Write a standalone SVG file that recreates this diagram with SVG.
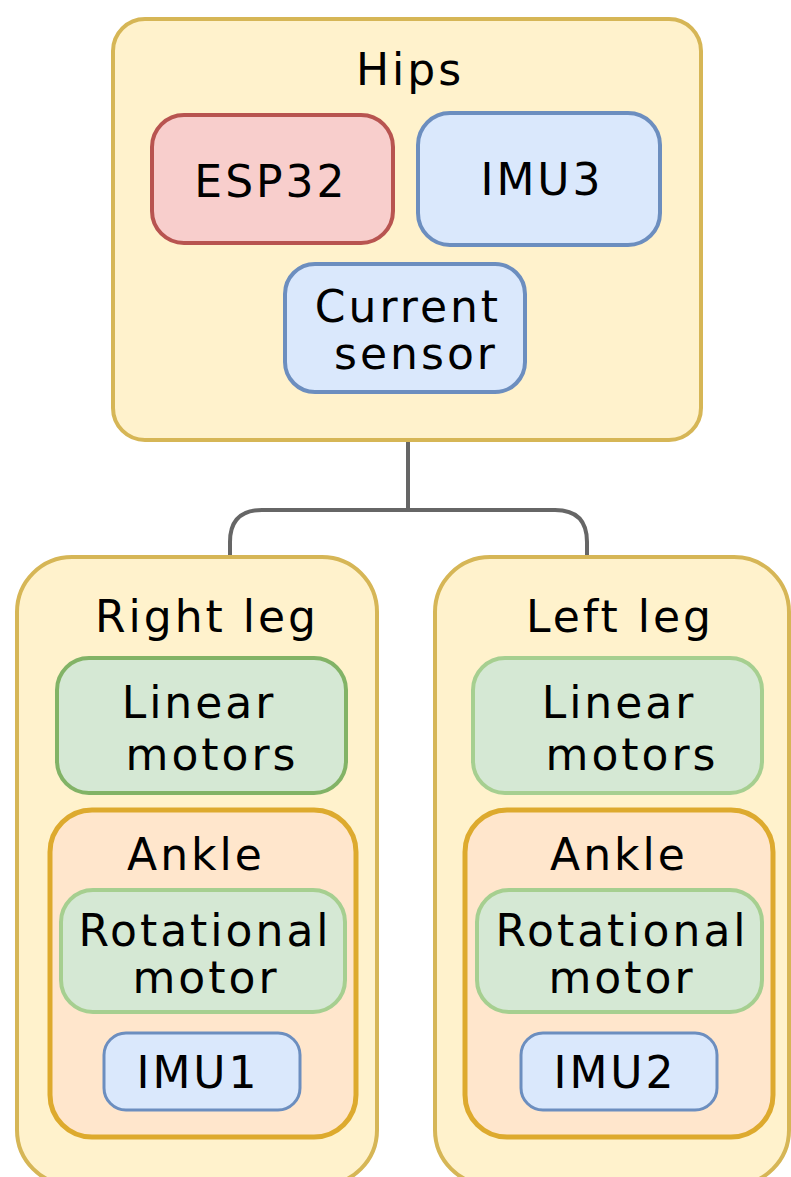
<svg xmlns="http://www.w3.org/2000/svg" width="791" height="1177" viewBox="0 0 791 1177">
<style>
text{font-family:"DejaVu Sans","Verdana",sans-serif;font-size:44px;letter-spacing:3px;fill:#000;text-anchor:middle}
.frame{fill:#fff2cc;stroke:#d6b656;stroke-width:4}
.red{fill:#f8cecc;stroke:#b85450;stroke-width:4}
.blue{fill:#dae8fc;stroke:#6c8ebf;stroke-width:4}
.green{fill:#d5e8d4;stroke:#82b366;stroke-width:4}
.lgreen{fill:#d5e8d4;stroke:#a6cf90;stroke-width:4}
.ankle{fill:#ffe6cc;stroke:#ddaa2e;stroke-width:5}
.conn{fill:none;stroke:#666;stroke-width:4}
</style>
<rect width="791" height="1177" fill="#fff"/>
<g id="connectors">
<path class="conn" d="M408,440 V510"/>
<path class="conn" d="M230,557 V542 Q230,510 262,510 H555 Q587,510 587,542 V557"/>
</g>
<g id="hips">
<rect class="frame" x="113" y="19" width="588" height="421" rx="32"/>
<text x="410" y="85">Hips</text>
</g>
<g id="esp32">
<rect class="red" x="152" y="115" width="241" height="128" rx="32"/>
<text x="271" y="197">ESP32</text>
</g>
<g id="imu3">
<rect class="blue" x="418" y="113" width="242" height="132" rx="32"/>
<text x="542" y="195">IMU3</text>
</g>
<g id="current-sensor">
<rect class="blue" x="285" y="264" width="240" height="128" rx="30"/>
<text x="408" y="322">Current</text>
<text x="416" y="369">sensor</text>
</g>
<g id="right-leg">
<rect class="frame" x="17" y="557" width="360" height="628" rx="55"/>
<text x="207" y="632">Right leg</text>
</g>
<g id="left-leg">
<rect class="frame" x="435" y="557" width="354" height="628" rx="55"/>
<text x="620" y="632">Left leg</text>
</g>
<g id="right-linear-motors">
<rect class="green" x="57" y="658" width="289" height="135" rx="32"/>
<text x="199" y="718">Linear</text>
<text x="212" y="770">motors</text>
</g>
<g id="left-linear-motors">
<rect class="lgreen" x="473" y="658" width="289" height="135" rx="32"/>
<text x="619" y="718">Linear</text>
<text x="632" y="770">motors</text>
</g>
<g id="right-ankle">
<rect class="ankle" x="50" y="810" width="306" height="327" rx="42"/>
<text x="196" y="870">Ankle</text>
</g>
<g id="left-ankle">
<rect class="ankle" x="465" y="810" width="308" height="327" rx="42"/>
<text x="619" y="870">Ankle</text>
</g>
<g id="right-rotational-motor">
<rect class="lgreen" x="61" y="890" width="284" height="122" rx="32"/>
<text x="205" y="946">Rotational</text>
<text x="206" y="993">motor</text>
</g>
<g id="left-rotational-motor">
<rect class="lgreen" x="477" y="890" width="285" height="122" rx="32"/>
<text x="622" y="946">Rotational</text>
<text x="622" y="993">motor</text>
</g>
<g id="imu1">
<rect class="blue" x="104" y="1033" width="196" height="77" rx="22" style="stroke-width:3"/>
<text x="198" y="1088">IMU1</text>
</g>
<g id="imu2">
<rect class="blue" x="521" y="1033" width="196" height="77" rx="22" style="stroke-width:3"/>
<text x="615" y="1088">IMU2</text>
</g>
</svg>
